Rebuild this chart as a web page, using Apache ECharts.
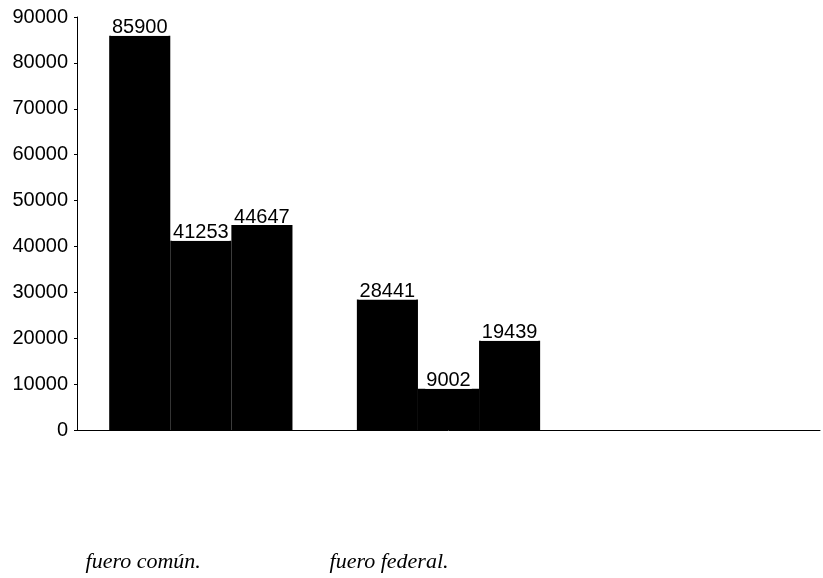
<!DOCTYPE html>
<html><head><meta charset="utf-8">
<script src="https://cdn.jsdelivr.net/npm/echarts@6/dist/echarts.min.js"></script>
<style>html,body{margin:0;padding:0;background:#fff}#c{width:823px;height:578px}</style>
</head><body><div id="c"></div>
<script>
const categories = ['fuero común.', 'fuero federal.', ''];
const series1 = [85900, 28441, null];
const series2 = [41253, 9002, null];
const series3 = [44647, 19439, null];
const yTicks = [0, 10000, 20000, 30000, 40000, 50000, 60000, 70000, 80000, 90000];

const chart = echarts.init(document.getElementById('c'));
const lbl = {show: true, position: 'top', distance: 0, color: '#000', fontFamily: 'Liberation Sans, Arial, sans-serif', fontSize: 20, backgroundColor: '#fff', padding: [0, 1, -2, 1]};
function mk(d) {
  return {type: 'bar', data: d, barGap: '0%', barCategoryGap: '26%', itemStyle: {color: '#000'}, label: lbl};
}
chart.setOption({
  animation: false,
  grid: {left: 77, right: 3, top: 17, bottom: 148, containLabel: false},
  xAxis: {type: 'category', data: categories,
    axisLine: {lineStyle: {color: '#000', width: 1}}, axisTick: {show: false},
    axisLabel: {align: 'right', margin: 121, color: '#000', fontFamily: 'Liberation Serif, Times New Roman, serif', fontStyle: 'italic', fontSize: 22}},
  yAxis: {type: 'value', min: yTicks[0], max: yTicks[yTicks.length - 1], interval: 10000,
    splitLine: {show: false},
    axisLine: {show: true, lineStyle: {color: '#000', width: 1}},
    axisTick: {show: true, length: 3, lineStyle: {color: '#000'}},
    axisLabel: {margin: 9, color: '#000', fontFamily: 'Liberation Sans, Arial, sans-serif', fontSize: 20, formatter: v => String(v)}},
  series: [mk(series1), mk(series2), mk(series3)]
});
</script></body></html>
